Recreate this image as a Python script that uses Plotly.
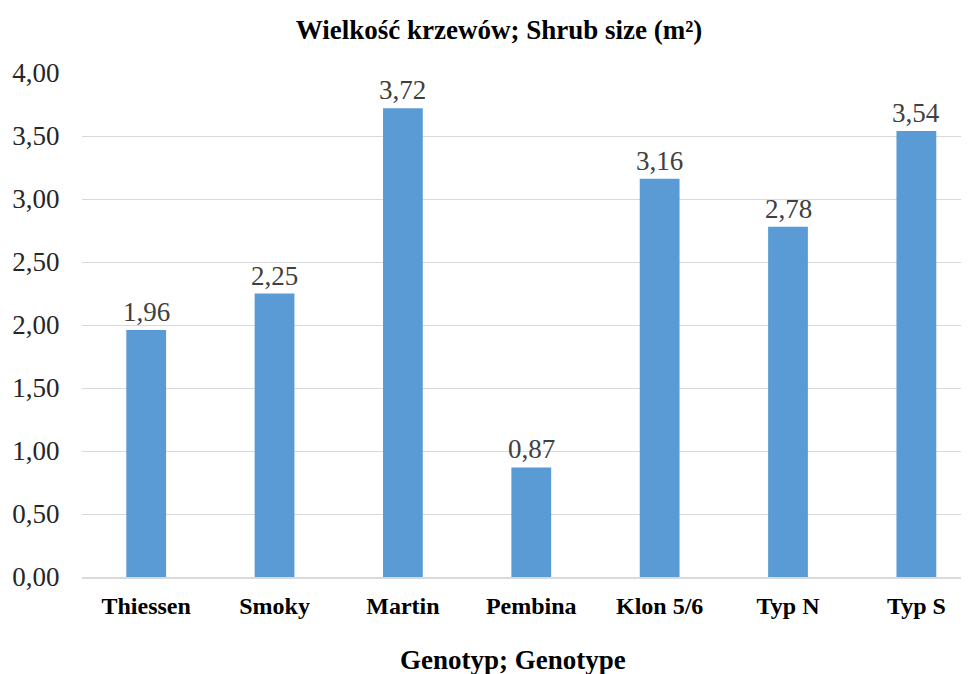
import plotly.graph_objects as go

categories = ["Thiessen", "Smoky", "Martin", "Pembina", "Klon 5/6", "Typ N", "Typ S"]
values = [1.96, 2.25, 3.72, 0.87, 3.16, 2.78, 3.54]
y_ticks = [0, 0.5, 1.0, 1.5, 2.0, 2.5, 3.0, 3.5, 4.0]

serif = "'Times New Roman', 'Liberation Serif', 'DejaVu Serif', serif"

fig = go.Figure(go.Bar(
    x=categories, y=values, width=0.31,
    marker=dict(color="#5B9BD5", line=dict(width=0)),
    cliponaxis=False,
))

for c, v in zip(categories, values):
    fig.add_annotation(
        x=c, y=v, text=f"{v:.2f}".replace(".", ","),
        showarrow=False, yanchor="bottom", yshift=1,
        font=dict(family=serif, size=27, color="#404040"),
    )

fig.add_annotation(
    text="<b>Genotyp; Genotype</b>", xref="paper", yref="paper",
    x=0.486, y=-0.165, xanchor="center", yanchor="middle", showarrow=False,
    font=dict(family=serif, size=27, color="black"),
)

fig.update_layout(
    width=961, height=666,
    margin=dict(l=74, r=0, t=65, b=97),
    paper_bgcolor="white", plot_bgcolor="white",
    separators=", ",
    showlegend=False,
    title=dict(text="<b>Wielkość krzewów; Shrub size (m²)</b>",
               x=0.511, xanchor="center", y=0.968, yanchor="middle",
               font=dict(family=serif, size=27, color="black")),
    font=dict(family=serif),
)
fig.update_xaxes(
    range=[-0.5, 6.41], showgrid=False,
    showline=True, linecolor="#D9D9D9", linewidth=1.5,
    tickfont=dict(family=serif, size=24, color="black"),
    tickprefix="<b>", ticksuffix="</b>",
    ticks="outside", ticklen=6, tickcolor="rgba(0,0,0,0)",
)
fig.update_yaxes(
    range=[0, 4.0], tickvals=y_ticks, tickformat=".2f",
    showgrid=True, gridcolor="#D9D9D9", gridwidth=1.3,
    zeroline=False, showline=False,
    tickfont=dict(family=serif, size=27, color="#262626"),
    ticks="outside", ticklen=16, tickcolor="rgba(0,0,0,0)",
)

fig.write_html("out.html")
